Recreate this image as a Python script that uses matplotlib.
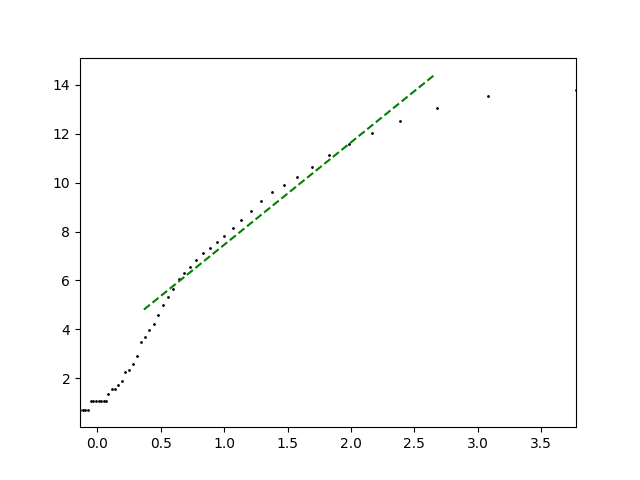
import matplotlib
matplotlib.use("Agg")
import matplotlib.pyplot as plt
import numpy as np

x = [-0.137, -0.116, -0.095, -0.074,
     -0.053, -0.032, -0.012, 0.009, 0.029, 0.050, 0.070,
     0.085, 0.116, 0.137, 0.160, 0.192, 0.219, 0.247, 0.279, 0.311,
     0.342, 0.375, 0.405, 0.445, 0.476, 0.516, 0.557, 0.595, 0.642,
     0.682, 0.729, 0.780, 0.832, 0.887, 0.943, 0.998, 1.069, 1.132,
     1.211, 1.290, 1.377, 1.470, 1.572, 1.693, 1.827, 1.985, 2.167,
     2.388, 2.681, 3.084, 3.774]
y = [0.69, 0.69, 0.69, 0.69,
     1.09, 1.09, 1.09, 1.09, 1.09, 1.09, 1.09,
     1.37, 1.58, 1.58, 1.74, 1.91, 2.27, 2.36, 2.60, 2.93,
     3.50, 3.67, 3.99, 4.24, 4.57, 4.98, 5.34, 5.64, 6.04,
     6.29, 6.55, 6.83, 7.11, 7.31, 7.56, 7.80, 8.13, 8.47,
     8.83, 9.24, 9.60, 9.89, 10.22, 10.63, 11.12, 11.57, 12.03,
     12.51, 13.04, 13.54, 13.79]

fit_x = [0.367, 2.663]
fit_y = [4.81, 14.42]

fig, ax = plt.subplots(figsize=(6.4, 4.8), dpi=100)
ax.plot(x, y, 'k.', markersize=2)
ax.plot(fit_x, fit_y, 'g--', linewidth=1.5)
ax.set_xlim(min(x), max(x))
fig.savefig("out.png")
